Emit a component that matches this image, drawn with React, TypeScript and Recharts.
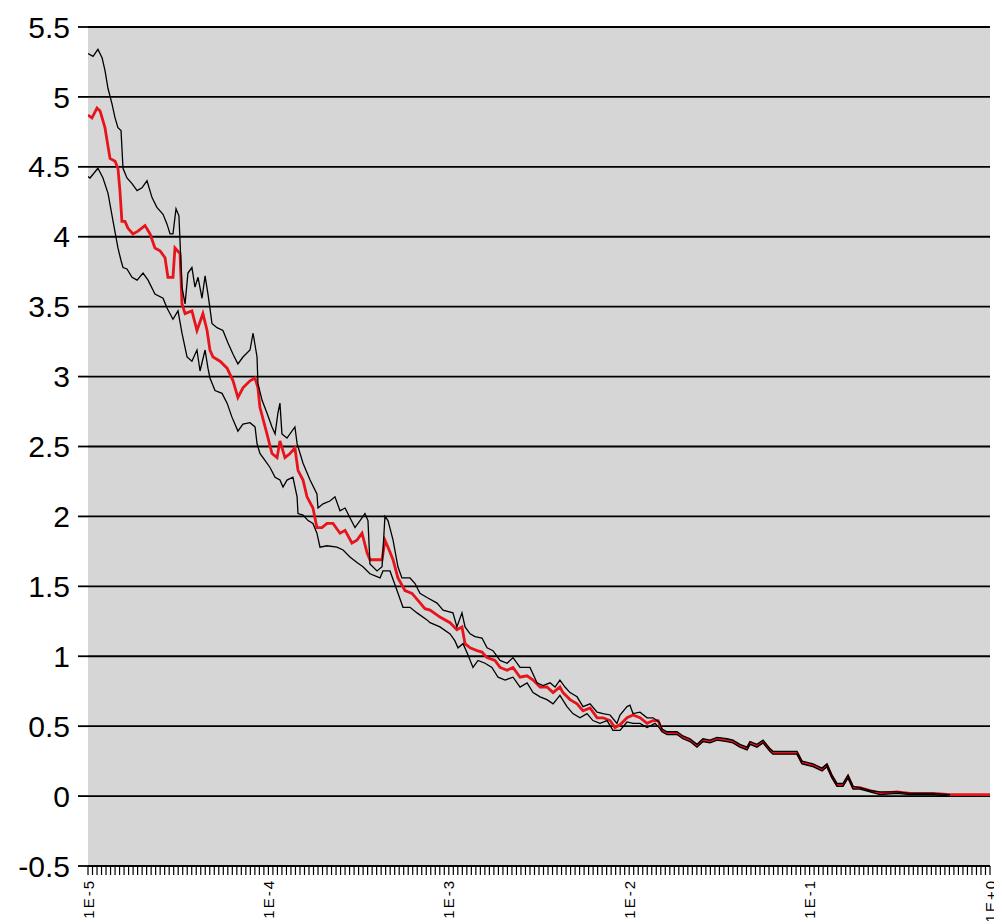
import React from 'react';
import { LineChart, Line, XAxis, YAxis, CartesianGrid } from 'recharts';

// x values are stored as log10 exponents, y as the plotted value
const midLine: [number, number][] = [
  [-5.0, 4.87], [-4.978, 4.85], [-4.95, 4.92], [-4.933, 4.9], [-4.906, 4.78], [-4.878, 4.56],
  [-4.85, 4.54], [-4.834, 4.49], [-4.823, 4.33], [-4.812, 4.11], [-4.795, 4.11], [-4.778, 4.06],
  [-4.751, 4.02], [-4.723, 4.04], [-4.684, 4.08], [-4.656, 4.02], [-4.629, 3.92], [-4.601, 3.9],
  [-4.573, 3.85], [-4.557, 3.71], [-4.529, 3.71], [-4.518, 3.92], [-4.49, 3.88], [-4.479, 3.52],
  [-4.462, 3.45], [-4.424, 3.47], [-4.396, 3.33], [-4.363, 3.45], [-4.34, 3.33], [-4.324, 3.19],
  [-4.307, 3.14], [-4.268, 3.11], [-4.229, 3.06], [-4.196, 2.97], [-4.169, 2.85], [-4.141, 2.92],
  [-4.102, 2.97], [-4.074, 2.99], [-4.058, 2.92], [-4.047, 2.78], [-4.008, 2.59], [-3.98, 2.45],
  [-3.952, 2.42], [-3.936, 2.54], [-3.908, 2.42], [-3.88, 2.45], [-3.853, 2.49], [-3.836, 2.33],
  [-3.808, 2.26], [-3.786, 2.14], [-3.753, 2.06], [-3.731, 1.92], [-3.703, 1.92], [-3.675, 1.95],
  [-3.642, 1.95], [-3.603, 1.88], [-3.575, 1.9], [-3.537, 1.81], [-3.509, 1.83], [-3.481, 1.88],
  [-3.453, 1.74], [-3.437, 1.69], [-3.37, 1.69], [-3.354, 1.83], [-3.337, 1.78], [-3.309, 1.69],
  [-3.282, 1.56], [-3.243, 1.47], [-3.204, 1.45], [-3.171, 1.4], [-3.132, 1.34], [-3.104, 1.33],
  [-3.049, 1.28], [-2.993, 1.24], [-2.955, 1.19], [-2.927, 1.21], [-2.91, 1.09], [-2.882, 1.06],
  [-2.844, 1.04], [-2.816, 1.03], [-2.788, 0.99], [-2.744, 0.97], [-2.716, 0.92], [-2.677, 0.9],
  [-2.644, 0.92], [-2.605, 0.85], [-2.566, 0.86], [-2.533, 0.83], [-2.494, 0.78], [-2.456, 0.78],
  [-2.422, 0.74], [-2.384, 0.78], [-2.367, 0.74], [-2.328, 0.69], [-2.289, 0.66], [-2.256, 0.61],
  [-2.217, 0.63], [-2.178, 0.56], [-2.145, 0.56], [-2.106, 0.54], [-2.079, 0.49], [-2.051, 0.51],
  [-2.012, 0.56], [-1.979, 0.58], [-1.94, 0.56], [-1.901, 0.52], [-1.868, 0.54], [-1.84, 0.54],
  [-1.818, 0.47], [-1.79, 0.45], [-1.735, 0.45], [-1.702, 0.42], [-1.663, 0.4], [-1.624, 0.36],
  [-1.591, 0.4], [-1.552, 0.39], [-1.513, 0.41], [-1.458, 0.4], [-1.425, 0.39], [-1.386, 0.36],
  [-1.347, 0.34], [-1.33, 0.38], [-1.292, 0.36], [-1.258, 0.39], [-1.22, 0.33], [-1.203, 0.31],
  [-1.109, 0.31], [-1.07, 0.31], [-1.042, 0.24], [-0.981, 0.22], [-0.931, 0.19], [-0.904, 0.22],
  [-0.876, 0.14], [-0.848, 0.08], [-0.815, 0.08], [-0.787, 0.14], [-0.759, 0.06], [-0.721, 0.06],
  [-0.665, 0.04], [-0.61, 0.02], [-0.516, 0.03], [-0.443, 0.02], [-0.316, 0.02], [-0.222, 0.01],
  [-0.039, 0.01], [0.0, 0.01],
];

const upperLine: [number, number][] = [
  [-5.0, 5.31], [-4.972, 5.29], [-4.945, 5.34], [-4.922, 5.28], [-4.906, 5.19], [-4.889, 5.06],
  [-4.867, 4.95], [-4.85, 4.85], [-4.834, 4.78], [-4.817, 4.76], [-4.806, 4.49], [-4.784, 4.42],
  [-4.756, 4.38], [-4.728, 4.33], [-4.701, 4.35], [-4.673, 4.4], [-4.645, 4.28], [-4.618, 4.21],
  [-4.584, 4.16], [-4.562, 4.09], [-4.545, 4.02], [-4.529, 4.02], [-4.512, 4.2], [-4.496, 4.15],
  [-4.479, 3.64], [-4.462, 3.52], [-4.446, 3.74], [-4.424, 3.78], [-4.407, 3.64], [-4.39, 3.71],
  [-4.368, 3.56], [-4.351, 3.72], [-4.335, 3.59], [-4.324, 3.49], [-4.313, 3.38], [-4.285, 3.35],
  [-4.252, 3.33], [-4.224, 3.24], [-4.196, 3.16], [-4.169, 3.09], [-4.141, 3.14], [-4.102, 3.19],
  [-4.085, 3.31], [-4.063, 3.14], [-4.058, 2.95], [-4.035, 2.83], [-4.008, 2.74], [-3.98, 2.64],
  [-3.963, 2.59], [-3.947, 2.74], [-3.936, 2.81], [-3.925, 2.59], [-3.897, 2.56], [-3.853, 2.64],
  [-3.841, 2.52], [-3.808, 2.38], [-3.769, 2.26], [-3.731, 2.16], [-3.725, 2.06], [-3.697, 2.09],
  [-3.659, 2.11], [-3.631, 2.14], [-3.603, 2.04], [-3.575, 2.06], [-3.548, 1.99], [-3.52, 1.92],
  [-3.492, 1.97], [-3.465, 2.02], [-3.448, 1.97], [-3.437, 1.66], [-3.398, 1.61], [-3.37, 1.64],
  [-3.354, 2.0], [-3.337, 1.97], [-3.309, 1.83], [-3.282, 1.64], [-3.26, 1.56], [-3.215, 1.56],
  [-3.187, 1.52], [-3.16, 1.45], [-3.121, 1.42], [-3.065, 1.38], [-3.032, 1.33], [-2.977, 1.31],
  [-2.955, 1.21], [-2.927, 1.31], [-2.91, 1.21], [-2.882, 1.16], [-2.855, 1.14], [-2.816, 1.13],
  [-2.788, 1.06], [-2.755, 1.04], [-2.716, 0.97], [-2.677, 0.95], [-2.644, 0.99], [-2.605, 0.92],
  [-2.55, 0.92], [-2.511, 0.81], [-2.478, 0.79], [-2.439, 0.81], [-2.411, 0.78], [-2.384, 0.83],
  [-2.356, 0.78], [-2.328, 0.74], [-2.289, 0.71], [-2.256, 0.64], [-2.217, 0.66], [-2.178, 0.6],
  [-2.145, 0.59], [-2.106, 0.58], [-2.068, 0.52], [-2.051, 0.58], [-2.012, 0.64], [-1.996, 0.65],
  [-1.979, 0.59], [-1.94, 0.6], [-1.901, 0.56], [-1.868, 0.56], [-1.834, 0.53], [-1.818, 0.48],
  [-1.79, 0.46], [-1.735, 0.46], [-1.702, 0.43], [-1.663, 0.41], [-1.624, 0.37], [-1.591, 0.41],
  [-1.552, 0.4], [-1.513, 0.42], [-1.458, 0.41], [-1.425, 0.4], [-1.386, 0.37], [-1.347, 0.35],
  [-1.33, 0.39], [-1.292, 0.37], [-1.258, 0.4], [-1.22, 0.34], [-1.203, 0.32], [-1.109, 0.32],
  [-1.07, 0.32], [-1.042, 0.25], [-0.981, 0.23], [-0.931, 0.2], [-0.904, 0.23], [-0.876, 0.15],
  [-0.848, 0.09], [-0.815, 0.09], [-0.787, 0.15], [-0.759, 0.07], [-0.721, 0.06], [-0.665, 0.04],
  [-0.61, 0.03], [-0.516, 0.03], [-0.443, 0.02], [-0.316, 0.02], [-0.222, 0.01],
];

const lowerLine: [number, number][] = [
  [-5.0, 4.43], [-4.989, 4.42], [-4.945, 4.49], [-4.917, 4.42], [-4.889, 4.31], [-4.861, 4.11],
  [-4.834, 3.92], [-4.817, 3.83], [-4.806, 3.78], [-4.784, 3.77], [-4.756, 3.71], [-4.728, 3.69],
  [-4.695, 3.74], [-4.667, 3.69], [-4.629, 3.59], [-4.584, 3.56], [-4.562, 3.49], [-4.529, 3.41],
  [-4.501, 3.47], [-4.479, 3.31], [-4.451, 3.14], [-4.424, 3.11], [-4.396, 3.19], [-4.379, 3.04],
  [-4.351, 3.19], [-4.335, 3.06], [-4.324, 2.99], [-4.296, 2.9], [-4.257, 2.88], [-4.229, 2.81],
  [-4.202, 2.71], [-4.169, 2.61], [-4.141, 2.66], [-4.102, 2.67], [-4.074, 2.64], [-4.063, 2.52],
  [-4.047, 2.45], [-4.019, 2.4], [-3.991, 2.35], [-3.963, 2.28], [-3.936, 2.26], [-3.919, 2.21],
  [-3.897, 2.26], [-3.864, 2.28], [-3.841, 2.14], [-3.836, 2.02], [-3.808, 2.01], [-3.78, 1.97],
  [-3.753, 1.95], [-3.731, 1.88], [-3.714, 1.78], [-3.675, 1.79], [-3.62, 1.78], [-3.586, 1.76],
  [-3.548, 1.71], [-3.509, 1.67], [-3.476, 1.64], [-3.437, 1.59], [-3.381, 1.56], [-3.365, 1.61],
  [-3.326, 1.61], [-3.287, 1.47], [-3.254, 1.35], [-3.215, 1.35], [-3.176, 1.31], [-3.121, 1.26],
  [-3.104, 1.24], [-3.049, 1.21], [-2.993, 1.16], [-2.966, 1.11], [-2.949, 1.06], [-2.921, 1.09],
  [-2.894, 1.01], [-2.866, 0.92], [-2.838, 0.97], [-2.799, 0.95], [-2.761, 0.92], [-2.727, 0.85],
  [-2.688, 0.83], [-2.644, 0.85], [-2.605, 0.78], [-2.566, 0.81], [-2.533, 0.74], [-2.494, 0.71],
  [-2.456, 0.69], [-2.422, 0.66], [-2.384, 0.72], [-2.345, 0.64], [-2.312, 0.59], [-2.273, 0.56],
  [-2.234, 0.59], [-2.201, 0.54], [-2.162, 0.52], [-2.123, 0.54], [-2.09, 0.47], [-2.051, 0.47],
  [-2.012, 0.53], [-1.979, 0.52], [-1.94, 0.52], [-1.901, 0.49], [-1.857, 0.52], [-1.834, 0.49],
  [-1.818, 0.46], [-1.79, 0.44], [-1.735, 0.44], [-1.702, 0.41], [-1.663, 0.39], [-1.624, 0.35],
  [-1.591, 0.39], [-1.552, 0.38], [-1.513, 0.4], [-1.458, 0.39], [-1.425, 0.38], [-1.386, 0.35],
  [-1.347, 0.33], [-1.33, 0.37], [-1.292, 0.35], [-1.258, 0.38], [-1.22, 0.32], [-1.203, 0.3],
  [-1.109, 0.3], [-1.07, 0.3], [-1.042, 0.23], [-0.981, 0.21], [-0.931, 0.18], [-0.904, 0.21],
  [-0.876, 0.13], [-0.848, 0.07], [-0.815, 0.07], [-0.787, 0.13], [-0.759, 0.05], [-0.721, 0.05],
  [-0.665, 0.03], [-0.61, 0.01], [-0.516, 0.02], [-0.443, 0.01], [-0.316, 0.01], [-0.222, 0.0],
];

const yTicks = [-0.5, 0, 0.5, 1, 1.5, 2, 2.5, 3, 3.5, 4, 4.5, 5, 5.5];
const decadeExps = [-5, -4, -3, -2, -1, 0];
const decadeLabels = ['1E-5', '1E-4', '1E-3', '1E-2', '1E-1', '1E+0'];

// dense minor tick marks along the category axis, 40 per decade
const xTicks: number[] = [];
for (let k = 0; k <= 200; k++) xTicks.push(10 ** (-5 + k / 40));

const toRows = (pts: [number, number][]) => pts.map(([e, v]) => ({ x: 10 ** e, y: v }));

const FONT = '"Liberation Sans", Arial, sans-serif';

const XTick = (props: any) => {
  const { x, y, payload } = props;
  const exp = Math.log10(payload.value);
  const idx = decadeExps.findIndex((d) => Math.abs(d - exp) < 1e-6);
  if (idx < 0) return null;
  return (
    <text
      x={x}
      y={y}
      transform={`rotate(-90 ${x} ${y})`}
      textAnchor="end"
      dominantBaseline="central"
      fontSize={15}
      letterSpacing={2}
      fontFamily={FONT}
      fill="#000"
    >
      {decadeLabels[idx]}
    </text>
  );
};

export default function App() {
  return (
    <div style={{ width: 990, height: 916, background: '#fff' }}>
      <LineChart width={990} height={916} margin={{ top: 19, right: 8, left: 0, bottom: 0 }}>
        <CartesianGrid vertical={false} stroke="#000" strokeWidth={1.8} fill="#d6d6d6" fillOpacity={1} />
        <XAxis
          dataKey="x"
          type="number"
          scale="log"
          domain={[1e-5, 1]}
          allowDataOverflow
          ticks={xTicks}
          interval={0}
          height={58}
          tickSize={9}
          tickMargin={4}
          axisLine={{ stroke: '#000', strokeWidth: 1.8 }}
          tickLine={{ stroke: '#000', strokeWidth: 1.2 }}
          tick={<XTick />}
        />
        <YAxis
          type="number"
          domain={[-0.5, 5.5]}
          ticks={yTicks}
          interval={0}
          width={80}
          tickSize={10}
          tickMargin={8}
          axisLine={false}
          tickLine={{ stroke: '#000', strokeWidth: 1.8 }}
          tick={{ fill: '#000', fontSize: 30, fontFamily: FONT }}
        />
        <Line data={toRows(midLine)} dataKey="y" stroke="#e8141c" strokeWidth={2.8} dot={false} isAnimationActive={false} />
        <Line data={toRows(upperLine)} dataKey="y" stroke="#000" strokeWidth={1.3} dot={false} isAnimationActive={false} />
        <Line data={toRows(lowerLine)} dataKey="y" stroke="#000" strokeWidth={1.3} dot={false} isAnimationActive={false} />
      </LineChart>
    </div>
  );
}
